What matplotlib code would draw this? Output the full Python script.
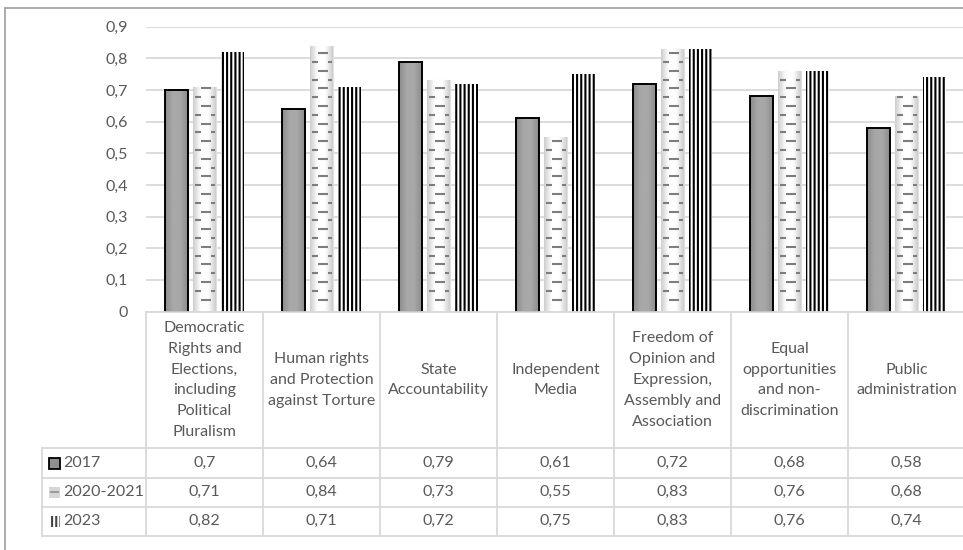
import numpy as np
import matplotlib
matplotlib.use("Agg")
import matplotlib.pyplot as plt
from matplotlib.patches import Rectangle
from matplotlib.lines import Line2D
from matplotlib.colors import LinearSegmentedColormap

# ---- data -------------------------------------------------------------
categories = [
    "Democratic\nRights and\nElections,\nincluding\nPolitical\nPluralism",
    "Human rights\nand Protection\nagainst Torture",
    "State\nAccountability",
    "Independent\nMedia",
    "Freedom of\nOpinion and\nExpression,\nAssembly and\nAssociation",
    "Equal\nopportunities\nand non-\ndiscrimination",
    "Public\nadministration",
]
series_names = ["2017", "2020-2021", "2023"]
values_2017 = [0.70, 0.64, 0.79, 0.61, 0.72, 0.68, 0.58]
values_2020 = [0.71, 0.84, 0.73, 0.55, 0.83, 0.76, 0.68]
values_2023 = [0.82, 0.71, 0.72, 0.75, 0.83, 0.76, 0.74]
y_ticks = [0, 0.1, 0.2, 0.3, 0.4, 0.5, 0.6, 0.7, 0.8, 0.9]
y_tick_labels = ["0", "0,1", "0,2", "0,3", "0,4", "0,5", "0,6", "0,7", "0,8", "0,9"]

# ---- styling ----------------------------------------------------------
W, H = 963, 550
FONT = "Lato"
TXT = "#595959"
GRID = "#d9d9d9"
FS = 11.5
plt.rcParams["font.family"] = [FONT, "DejaVu Sans"]
plt.rcParams["hatch.linewidth"] = 1.5


def fx(px):
    return px / W


def fy(py):
    return 1 - py / H


def fmt(v):
    s = ("%.2f" % v).rstrip("0").rstrip(".")
    return s.replace(".", ",")


fig = plt.figure(figsize=(W / 100, H / 100), dpi=100)

# plot area in pixel terms
X0, X1 = 146, 965
CAT_PX = 117.0
Y_ZERO, Y_TOP = 311.5, 26.7
ax = fig.add_axes([fx(X0), fy(Y_ZERO), fx(X1) - fx(X0), fy(Y_TOP) - fy(Y_ZERO)])
ax.set_xlim(0, len(categories))
ax.set_ylim(0, 0.9)
ax.set_autoscale_on(False)
for s in ax.spines.values():
    s.set_visible(False)
ax.set_xticks([])
ax.set_yticks(y_ticks)
ax.set_yticklabels(y_tick_labels, fontsize=FS, color=TXT)
ax.tick_params(axis="y", length=0, pad=13)
ax.yaxis.grid(True, color=GRID, linewidth=1.3)
ax.set_axisbelow(True)

idx = np.arange(len(categories)) + 0.5
bar_w = 23.0 / CAT_PX
pitch = 28.0 / CAT_PX

# 2017: solid grey with black outline and soft shading
cmap_grey = LinearSegmentedColormap.from_list("g", ["#8c8c8c", "#a8a8a8", "#a8a8a8", "#8c8c8c"])
bars1 = ax.bar(idx - pitch, values_2017, bar_w, facecolor="#a3a3a3",
               edgecolor="black", linewidth=1.4, zorder=3)
for b in bars1:
    x0, w, h = b.get_x(), b.get_width(), b.get_height()
    im = ax.imshow(np.linspace(0, 1, 64).reshape(1, -1), cmap=cmap_grey,
                   extent=[x0, x0 + w, 0, h], aspect="auto", zorder=3.1,
                   interpolation="bicubic")
    im.set_clip_path(b)
    b.set_facecolor("none")
    b.set_zorder(3.2)

# 2020-2021: pale shaded bar with a brick pattern of short dashes
cmap_pale = LinearSegmentedColormap.from_list("p", ["#cdcdcd", "#ffffff", "#ffffff", "#cdcdcd"])
bars2 = ax.bar(idx, values_2020, bar_w, facecolor="#f2f2f2",
               edgecolor="#e0e0e0", linewidth=0.8, zorder=3)
px_per_unit_y = (Y_ZERO - Y_TOP) / 0.9
row_step = 8.8 / px_per_unit_y
row_start = (Y_ZERO - 88.3) / px_per_unit_y % (2 * row_step)
even_segments = [(8.4, 18.4)]
odd_segments = [(1.5, 8.4), (18.4, 21.6)]
for b in bars2:
    x0, w, h = b.get_x(), b.get_width(), b.get_height()
    im = ax.imshow(np.linspace(0, 1, 64).reshape(1, -1), cmap=cmap_pale,
                   extent=[x0, x0 + w, 0, h], aspect="auto", zorder=3.1,
                   interpolation="bicubic")
    im.set_clip_path(b)
    k = 0
    y = row_start
    while y < h - 0.001:
        segs = even_segments if k % 2 == 0 else odd_segments
        for a, z in segs:
            ln = Line2D([x0 + a / CAT_PX, x0 + z / CAT_PX], [y, y], color="#7d7d7d",
                        linewidth=1.5, solid_capstyle="butt", zorder=3.3)
            ax.add_line(ln)
        y += row_step
        k += 1

# 2023: vertical black stripes
bars3 = ax.bar(idx + pitch, values_2023, bar_w, facecolor="white",
               edgecolor="black", linewidth=0, hatch="||||", zorder=3)

# ---- data table below the plot ---------------------------------------
line_kw = dict(color=GRID, linewidth=1.3, transform=fig.transFigure)
col_edges = [X0 + i * CAT_PX for i in range(len(categories) + 1)]
row_lines = [448.3, 477.7, 506.7, 536.0]
TAB_LEFT = 42.3

fig.add_artist(Line2D([fx(X0), fx(X1)], [fy(312), fy(312)], **line_kw))
for ry in row_lines:
    fig.add_artist(Line2D([fx(TAB_LEFT), fx(X1)], [fy(ry), fy(ry)], **line_kw))
for cxp in col_edges:
    fig.add_artist(Line2D([fx(cxp), fx(cxp)], [fy(312), fy(row_lines[-1])], **line_kw))
fig.add_artist(Line2D([fx(TAB_LEFT), fx(TAB_LEFT)], [fy(row_lines[0]), fy(row_lines[-1])], **line_kw))

for i, cat in enumerate(categories):
    cxp = (col_edges[i] + col_edges[i + 1]) / 2
    fig.text(fx(cxp), fy(380), cat, ha="center", va="center", fontsize=FS,
             color=TXT, linespacing=1.62)

all_series = [values_2017, values_2020, values_2023]
for r, (name, vals) in enumerate(zip(series_names, all_series)):
    ymid = (row_lines[r] + row_lines[r + 1]) / 2
    fig.text(fx(63), fy(ymid), name, ha="left", va="center", fontsize=FS, color=TXT)
    for i, v in enumerate(vals):
        cxp = (col_edges[i] + col_edges[i + 1]) / 2
        fig.text(fx(cxp), fy(ymid), fmt(v), ha="center", va="center",
                 fontsize=FS, color=TXT)


# legend keys inside the table
def key_box(r, **kw):
    ymid = (row_lines[r] + row_lines[r + 1]) / 2
    rect = Rectangle((fx(49), fy(ymid + 5.5)), fx(11), 11 / H,
                     transform=fig.transFigure, **kw)
    fig.add_artist(rect)
    return ymid


key_box(0, facecolor="#8f8f8f", edgecolor="black", linewidth=1.3)
ym = key_box(1, facecolor="#d6d6d6", edgecolor="none")
fig.add_artist(Line2D([fx(51), fx(58)], [fy(ym), fy(ym)], color="#9a9a9a",
                      linewidth=1.4, transform=fig.transFigure))
key_box(2, facecolor="white", edgecolor="#444444", linewidth=0, hatch="||||")

# outer frame
frame_kw = dict(color="#a6a6a6", linewidth=1.3, transform=fig.transFigure)
fig.add_artist(Line2D([fx(4.5), fx(4.5)], [fy(8), 0], **frame_kw))
fig.add_artist(Line2D([fx(4.5), 1], [fy(8), fy(8)], **frame_kw))

fig.savefig("out.png", dpi=100, facecolor="white")
